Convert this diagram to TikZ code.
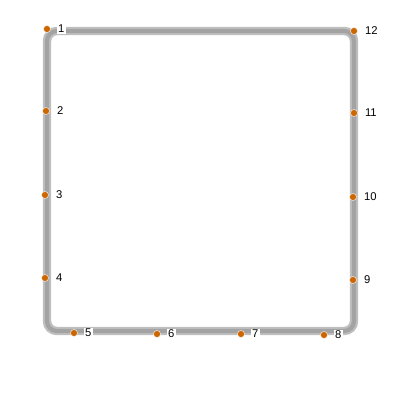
\documentclass[tikz,border=0pt]{standalone}
\usepackage{fontspec}
\setmainfont{Liberation Sans}
\definecolor{dotorange}{RGB}{204, 102, 0}
\usepackage{tikz}
\usetikzlibrary{
  arrows.meta,
  positioning
}

\begin{document}
\begin{tikzpicture}[
  x=0.25mm, y=-0.25mm,
  pnode/.style={circle, fill=dotorange, draw=white, line width=0.3pt,
                minimum size=5pt, inner sep=0pt},
  plabel/.style={fill=white, inner sep=1pt, font=\footnotesize},
  tube/.style={draw=gray!50, line width=6pt, rounded corners=7pt},
  tubecore/.style={draw=gray!72, line width=3pt, rounded corners=7pt}
]

\useasboundingbox (0,0) rectangle (400,400);

% corners of the path
\coordinate (tl) at (47, 31);
\coordinate (bl) at (47, 331);
\coordinate (br) at (354, 331);
\coordinate (tr) at (354, 31);

\draw[tube]     (tl) -- (bl) -- (br) -- (tr) -- cycle;
\draw[tubecore] (tl) -- (bl) -- (br) -- (tr) -- cycle;

% points along the path
\node[pnode] (p1)  at (47, 29)   {};
\node[pnode] (p2)  at (46, 111)  {};
\node[pnode] (p3)  at (45, 195)  {};
\node[pnode] (p4)  at (45, 278)  {};
\node[pnode] (p5)  at (74, 333)  {};
\node[pnode] (p6)  at (157, 334) {};
\node[pnode] (p7)  at (241, 334) {};
\node[pnode] (p8)  at (324, 335) {};
\node[pnode] (p9)  at (353, 280) {};
\node[pnode] (p10) at (353, 197) {};
\node[pnode] (p11) at (354, 113) {};
\node[pnode] (p12) at (354, 31)  {};

\node[plabel, right=4pt of p1]  (l1)  {1};
\node[plabel, right=4pt of p2]  (l2)  {2};
\node[plabel, right=4pt of p3]  (l3)  {3};
\node[plabel, right=4pt of p4]  (l4)  {4};
\node[plabel, right=4pt of p5]  (l5)  {5};
\node[plabel, right=4pt of p6]  (l6)  {6};
\node[plabel, right=4pt of p7]  (l7)  {7};
\node[plabel, right=4pt of p8]  (l8)  {8};
\node[plabel, right=4pt of p9]  (l9)  {9};
\node[plabel, right=4pt of p10] (l10) {10};
\node[plabel, right=4pt of p11] (l11) {11};
\node[plabel, right=4pt of p12] (l12) {12};

\end{tikzpicture}
\end{document}
